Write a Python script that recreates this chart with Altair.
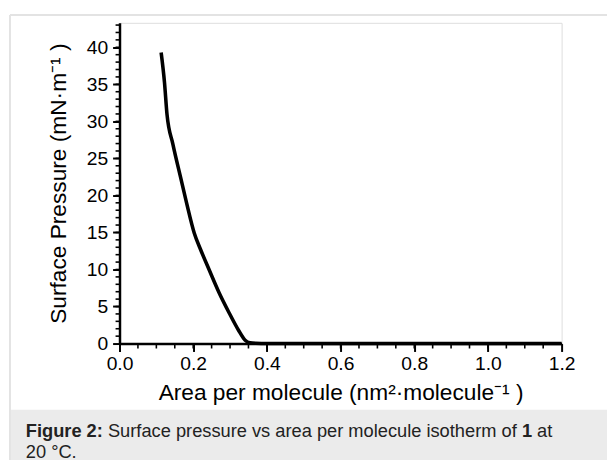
import altair as alt
import pandas as pd

# ---- data ----
area = [0.113, 0.122, 0.129, 0.145, 0.166, 0.182, 0.203, 0.220, 0.243, 0.270,
        0.297, 0.323, 0.341, 0.354, 0.37, 0.40, 0.60, 0.80, 1.00, 1.20]
pressure = [39.3, 35.3, 30.9, 26.9, 22.4, 19.0, 14.9, 12.7, 10.0, 6.9,
            4.2, 1.8, 0.45, 0.1, 0.03, 0.0, 0.0, 0.0, 0.0, 0.0]

x_major = [0.0, 0.2, 0.4, 0.6, 0.8, 1.0, 1.2]
y_major = [0, 5, 10, 15, 20, 25, 30, 35, 40]
x_minor = [round(i * 0.05, 2) for i in range(1, 24)]
y_minor = list(range(1, 44))

x_title = "Area per molecule (nm²·molecule⁻¹ )"
y_title = "Surface Pressure (mN·m⁻¹ )"
cap_bold1 = "Figure 2:"
cap_mid = " Surface pressure vs area per molecule isotherm of "
cap_bold2 = "1"
cap_end = " at"
cap_line2 = "20 °C."

W, H = 448, 325
PAD_L, PAD_T = 113, 12
TOT_W, TOT_H = 607, 455
XD = [0, 1.2]
YD = [0, 43.3]
FONT = "Liberation Sans"
CAP_FS = 18.5
TICK_FS = 19.5

# Arial / Liberation Sans advance widths (per 1000 em) for caption layout
REG = {' ': 278, 'S': 667, 'u': 556, 'r': 333, 'f': 278, 'a': 556, 'c': 500,
       'e': 556, 'p': 556, 's': 500, 'v': 500, 'm': 833, 'o': 556, 'l': 222,
       'i': 222, 't': 278, 'h': 556}
BOLD = {'F': 611, 'i': 278, 'g': 611, 'u': 611, 'r': 389, 'e': 556, ' ': 278,
        '2': 556, ':': 333, '1': 556}


def tw(s, table):
    return sum(table.get(ch, 556) for ch in s) * CAP_FS / 1000.0


df = pd.DataFrame({"area": area, "pressure": pressure})
one = alt.Data(values=[{"k": 0}])

xs = alt.Scale(domain=XD, nice=False, zero=False)
ys = alt.Scale(domain=YD, nice=False, zero=False)

x_axis = alt.Axis(values=x_major, format=".1f", title=x_title, labelFlush=False,
                  tickSize=8, tickWidth=2, domainWidth=2.5, domainColor="black",
                  tickColor="black", labelFontSize=TICK_FS, labelPadding=3,
                  labelColor="black", labelFont=FONT, titleFont=FONT,
                  titleFontSize=23, titleFontWeight="normal", titleColor="black",
                  titleBaseline="alphabetic", titleY=57, grid=False)
y_axis = alt.Axis(values=y_major, title=y_title, tickSize=7, tickWidth=2,
                  domainWidth=2.5, domainColor="black", tickColor="black",
                  labelFontSize=TICK_FS, labelPadding=5, labelColor="black",
                  labelFont=FONT, titleFont=FONT, titleFontSize=23,
                  titleFontWeight="normal", titleColor="black",
                  titleX=-62, titleBaseline="middle", grid=False)

line = alt.Chart(df).mark_line(color="black", strokeWidth=3.6, interpolate="monotone").encode(
    x=alt.X("area:Q", scale=xs, axis=x_axis),
    y=alt.Y("pressure:Q", scale=ys, axis=y_axis),
)

ymin = alt.Chart(pd.DataFrame({"v": y_minor})).mark_rule(color="black", strokeWidth=1.6).encode(
    y=alt.Y("v:Q", scale=ys, axis=y_axis, title=y_title), x=alt.value(-4), x2=alt.value(0))
xmin = alt.Chart(pd.DataFrame({"u": x_minor})).mark_rule(color="black", strokeWidth=1.6).encode(
    x=alt.X("u:Q", scale=xs, axis=x_axis, title=x_title), y=alt.value(H), y2=alt.value(H + 5))

right_edge = TOT_W - PAD_L
bottom_edge = TOT_H - PAD_T
frame_top = alt.Chart(one).mark_rule(color="#e3e3e3", strokeWidth=2).encode(
    x=alt.value(-111), x2=alt.value(right_edge), y=alt.value(-8))
frame_left = alt.Chart(one).mark_rule(color="#e3e3e3", strokeWidth=2).encode(
    x=alt.value(-111), y=alt.value(-8), y2=alt.value(bottom_edge))
cap_box = alt.Chart(one).mark_rect(color="#ebebeb").encode(
    x=alt.value(-110), x2=alt.value(right_edge), y=alt.value(392), y2=alt.value(bottom_edge))

x0 = -95
b1 = 420
b2 = 441
segs = []
cur = x0
for s, wgt, tab in [(cap_bold1, "bold", BOLD), (cap_mid, "normal", REG),
                    (cap_bold2, "bold", BOLD), (cap_end, "normal", REG)]:
    lead = len(s) - len(s.lstrip(" "))
    segs.append((s.strip(" "), wgt, cur + tw(" " * lead, tab)))
    cur += tw(s, tab)

texts = []
for s, wgt, xx in segs:
    texts.append(alt.Chart(one).mark_text(
        align="left", baseline="alphabetic", font=FONT, fontSize=CAP_FS,
        fontWeight=wgt, color="#222222").encode(
        x=alt.value(xx), y=alt.value(b1), text=alt.value(s)))
texts.append(alt.Chart(one).mark_text(
    align="left", baseline="alphabetic", font=FONT, fontSize=CAP_FS,
    fontWeight="normal", color="#222222").encode(
    x=alt.value(x0), y=alt.value(b2), text=alt.value(cap_line2)))

chart = alt.layer(cap_box, frame_top, frame_left, ymin, xmin, line, *texts).properties(
    width=W, height=H,
    autosize=alt.AutoSizeParams(type="none"),
    padding={"left": PAD_L, "top": PAD_T, "right": TOT_W - PAD_L - W,
             "bottom": TOT_H - PAD_T - H},
).configure_view(stroke=None).configure(background="white")

chart.save("out.html", embed_options={"renderer": "svg", "actions": False})
